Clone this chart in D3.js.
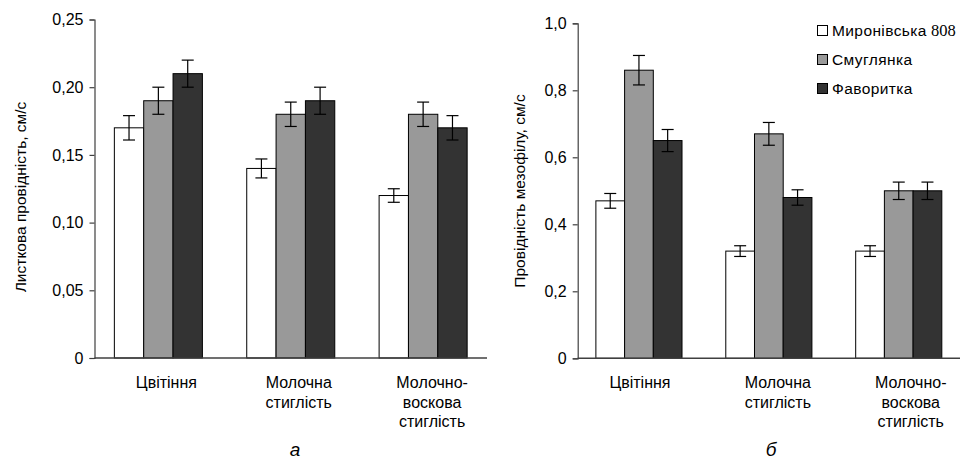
<!DOCTYPE html>
<html><head><meta charset="utf-8">
<script src="https://cdn.jsdelivr.net/npm/d3@7"></script>
<style>
body{margin:0;background:#fff}
svg{display:block}
text{font-family:"Liberation Sans",Arial,sans-serif;fill:#000}
</style></head>
<body><svg id="chart" width="960" height="462"></svg>
<script>
// ---- data ----
const categories = [["Цвітіння"], ["Молочна", "стиглість"], ["Молочно-", "воскова", "стиглість"]];
const seriesNames = ["Миронівська", "Смуглянка", "Фаворитка"];
const seriesColors = ["#ffffff", "#999999", "#333333"];

// (а) leaf conductance, cm/s
const leafMyronivska = [0.17, 0.14, 0.12];
const leafSmuhlianka = [0.19, 0.18, 0.18];
const leafFavorytka = [0.21, 0.19, 0.17];
const leafErrMyronivska = [0.009, 0.007, 0.005];
const leafErrSmuhlianka = [0.01, 0.009, 0.009];
const leafErrFavorytka = [0.01, 0.01, 0.009];
const leafTicks = [0, 0.05, 0.10, 0.15, 0.20, 0.25];
const leafTickLabels = ["0", "0,05", "0,10", "0,15", "0,20", "0,25"];

// (б) mesophyll conductance, cm/s
const mesoMyronivska = [0.47, 0.32, 0.32];
const mesoSmuhlianka = [0.86, 0.67, 0.50];
const mesoFavorytka = [0.65, 0.48, 0.50];
const mesoErrMyronivska = [0.022, 0.016, 0.016];
const mesoErrSmuhlianka = [0.044, 0.034, 0.026];
const mesoErrFavorytka = [0.033, 0.023, 0.026];
const mesoTicks = [0, 0.2, 0.4, 0.6, 0.8, 1.0];
const mesoTickLabels = ["0", "0,2", "0,4", "0,6", "0,8", "1,0"];

const svg = d3.select("#chart");
const axisColor = "#404040";

function drawPanel(cfg) {
  const g = svg.append("g");
  const x0 = d3.scaleBand().domain(d3.range(categories.length))
    .range([cfg.left, cfg.right]).paddingInner(cfg.padIn).paddingOuter(cfg.padOut);
  const x1 = d3.scaleBand().domain(d3.range(seriesNames.length)).range([0, x0.bandwidth()]);
  const y = d3.scaleLinear().domain([0, cfg.max]).range([cfg.bottom, cfg.top]);

  // bars
  cfg.values.forEach((vals, s) => {
    vals.forEach((v, c) => {
      const bx = x0(c) + x1(s);
      g.append("rect")
        .attr("x", bx).attr("y", y(v))
        .attr("width", x1.bandwidth()).attr("height", y(0) - y(v))
        .attr("fill", seriesColors[s]).attr("stroke", "#000").attr("stroke-width", 1);
      const e = cfg.errors[s][c];
      const cx = bx + x1.bandwidth() / 2;
      const eg = g.append("g").attr("stroke", "#000").attr("stroke-width", 1.2);
      eg.append("line").attr("x1", cx).attr("x2", cx).attr("y1", y(v + e)).attr("y2", y(v - e));
      eg.append("line").attr("x1", cx - 6).attr("x2", cx + 6).attr("y1", y(v + e)).attr("y2", y(v + e));
      eg.append("line").attr("x1", cx - 6).attr("x2", cx + 6).attr("y1", y(v - e)).attr("y2", y(v - e));
    });
  });

  // y axis
  const ya = d3.axisLeft(y).tickValues(cfg.ticks).tickSize(5).tickPadding(6)
    .tickFormat((d, i) => cfg.tickLabels[i]);
  const yg = g.append("g").attr("transform", `translate(${cfg.left},0)`).call(ya);
  yg.select(".domain").attr("stroke", axisColor).attr("stroke-width", 1.2);
  yg.selectAll(".tick line").attr("stroke", axisColor).attr("stroke-width", 1.2);
  yg.selectAll(".tick text").style("font-size", "16px").attr("fill", "#000")
    .style("font-family", '"Liberation Sans",Arial,sans-serif');

  // x axis line
  g.append("line").attr("x1", cfg.left).attr("x2", cfg.right)
    .attr("y1", y(0)).attr("y2", y(0)).attr("stroke", axisColor).attr("stroke-width", 1.5);

  // category labels
  categories.forEach((lines, c) => {
    const cxl = x0(c) + x0.bandwidth() / 2 + cfg.labelDx[c];
    const t = g.append("text").attr("text-anchor", "middle").style("font-size", "16px")
      .attr("x", cxl).attr("y", 388);
    lines.forEach((ln, i) => {
      t.append("tspan").attr("x", cxl).attr("y", 388 + i * 19.5).text(ln);
    });
  });

  // y title
  g.append("text").attr("text-anchor", "middle").style("font-size", "15.5px")
    .attr("transform", `translate(${cfg.titleX},${cfg.titleY}) rotate(-90)`)
    .text(cfg.title);

  // panel letter
  g.append("text").attr("text-anchor", "middle").style("font-size", "19px").style("font-style", "italic")
    .attr("x", cfg.letterX).attr("y", 456).text(cfg.letter);
}

drawPanel({
  left: 94.5, right: 487, top: 19.5, bottom: 358, max: 0.25,
  padIn: 0.335, padOut: 0.15,
  values: [leafMyronivska, leafSmuhlianka, leafFavorytka],
  errors: [leafErrMyronivska, leafErrSmuhlianka, leafErrFavorytka],
  ticks: leafTicks, tickLabels: leafTickLabels,
  labelDx: [8, 8, 9],
  title: "Листкова провідність, см/с", titleX: 26, titleY: 197,
  letter: "а", letterX: 295
});

drawPanel({
  left: 577.7, right: 960, top: 23.3, bottom: 358.3, max: 1.0,
  padIn: 0.337, padOut: 0.14,
  values: [mesoMyronivska, mesoSmuhlianka, mesoFavorytka],
  errors: [mesoErrMyronivska, mesoErrSmuhlianka, mesoErrFavorytka],
  ticks: mesoTicks, tickLabels: mesoTickLabels,
  labelDx: [1, 9, 12],
  title: "Провідність мезофілу, см/с", titleX: 525, titleY: 191,
  letter: "б", letterX: 771
});

// legend
const legend = svg.append("g").attr("transform", "translate(817,25)");
seriesNames.forEach((name, i) => {
  const row = legend.append("g").attr("transform", `translate(0,${i * 29})`);
  row.append("rect").attr("x", 0.5).attr("y", 0.5).attr("width", 10).attr("height", 10)
    .attr("fill", seriesColors[i]).attr("stroke", "#000").attr("stroke-width", 1);
  const t = row.append("text").attr("x", 15).attr("y", 11).style("font-size", "15.5px")
    .style("letter-spacing", "0.4px");
  t.append("tspan").text(name);
  if (i === 0) t.append("tspan").style("font-family", '"Liberation Serif",serif')
    .style("font-size", "16.5px").style("letter-spacing", "0").text(" 808");
});
</script></body></html>
